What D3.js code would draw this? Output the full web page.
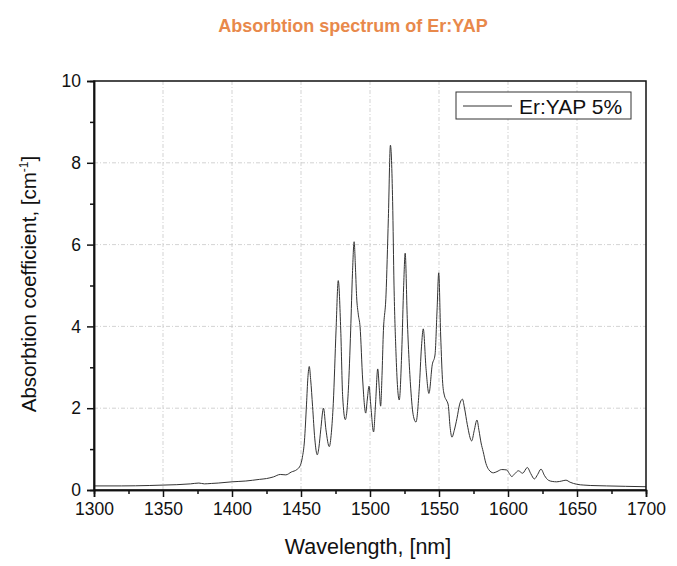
<!DOCTYPE html>
<html>
<head>
<meta charset="utf-8">
<script src="https://cdn.jsdelivr.net/npm/d3@7"></script>
<style>
  html, body { margin: 0; padding: 0; background: #fff; }
  svg { display: block; font-family: "Liberation Sans", Arial, Helvetica, sans-serif; }
</style>
</head>
<body>
<svg id="chart" width="677" height="566"></svg>
<script>
// ── Data ──────────────────────────────────────────────────────────────────────
const wavelength = [
  1300, 1320, 1340, 1350, 1360, 1370, 1376, 1380, 1385, 1390, 1400, 1410, 1420, 1425, 1430,
  1435, 1439, 1443, 1447, 1449.5, 1451, 1452.5, 1454, 1455, 1456, 1457, 1458.4, 1460, 1461.8,
  1463, 1464.3, 1466.3, 1468.1, 1470.5, 1472, 1473.4, 1475.4, 1477, 1478.8, 1480.2, 1482.1,
  1484.3, 1486, 1487.3, 1488.5, 1489.5, 1490.3, 1491.5, 1492.8, 1494.7, 1496.9, 1498, 1499.3,
  1500.5, 1502.6, 1504, 1505.6, 1506.7, 1507.7, 1508.7, 1509.6, 1511.6, 1513.3, 1514.8, 1516.4,
  1517.4, 1518.8, 1520, 1521.2, 1523, 1524.4, 1525.5, 1527, 1529.5, 1531.5, 1533.3, 1535.7,
  1537.3, 1538.6, 1540.6, 1542.7, 1545.1, 1547.1, 1548.6, 1549.8, 1551.2, 1552.7, 1554, 1555.3,
  1556.7, 1558, 1559.4, 1561, 1563, 1565, 1567, 1568.5, 1570.5, 1573.7, 1575.5, 1577.5, 1579,
  1580.5, 1582, 1584, 1586, 1589.4, 1592, 1595.4, 1599, 1601, 1602.7, 1605, 1607.5, 1610.6,
  1614, 1616.5, 1619.1, 1621.5, 1623.9, 1626.5, 1629.2, 1632, 1635.3, 1639, 1642, 1645, 1649.8,
  1655, 1660, 1671.5, 1685, 1700
];
const absorption = [
  0.10, 0.10, 0.11, 0.12, 0.13, 0.15, 0.17, 0.15, 0.16, 0.17, 0.20, 0.22, 0.26, 0.28, 0.32,
  0.38, 0.37, 0.44, 0.50, 0.60, 0.80, 1.20, 2.10, 2.75, 3.02, 2.70, 2.04, 1.25, 0.86,
  1.05, 1.47, 2.00, 1.47, 1.06, 1.40, 2.12, 3.91, 5.12, 3.91, 2.28, 1.72,
  2.44, 3.91, 5.30, 6.07, 5.40, 4.73, 4.30, 3.99, 2.69, 1.88, 2.20, 2.54,
  2.10, 1.42, 2.10, 2.96, 2.50, 2.05, 2.80, 3.79, 4.77, 6.64, 8.43, 7.05,
  5.01, 3.38, 2.50, 2.20, 3.38, 5.00, 5.79, 4.20, 2.49, 1.80, 1.66, 2.49,
  3.50, 3.94, 2.97, 2.36, 3.06, 3.30, 4.40, 5.31, 3.79, 2.60, 2.30, 2.20,
  2.08, 1.55, 1.29, 1.45, 1.75, 2.10, 2.22, 2.00, 1.60, 1.20, 1.45, 1.71, 1.45,
  1.15, 0.94, 0.65, 0.50, 0.42, 0.45, 0.50, 0.49, 0.40, 0.33, 0.40, 0.47, 0.41,
  0.55, 0.40, 0.27, 0.38, 0.51, 0.35, 0.24, 0.21, 0.20, 0.22, 0.24, 0.19, 0.14,
  0.12, 0.11, 0.10, 0.09, 0.08
];
const xMajorTicks = [1300, 1350, 1400, 1450, 1500, 1550, 1600, 1650, 1700];
const xMinorTicks = [1325, 1375, 1425, 1475, 1525, 1575, 1625, 1675];
const yMajorTicks = [0, 2, 4, 6, 8, 10];
const yMinorTicks = [1, 3, 5, 7, 9];
const seriesName = "Er:YAP 5%";

// ── Layout ────────────────────────────────────────────────────────────────────
const svg = d3.select("#chart");
const plot = { left: 94, right: 646, top: 81, bottom: 490 };

const x = d3.scaleLinear().domain([1300, 1700]).range([plot.left, plot.right]);
const y = d3.scaleLinear().domain([0, 10]).range([plot.bottom, plot.top]);

// Title
svg.append("text")
  .attr("x", 353)
  .attr("y", 32)
  .attr("text-anchor", "middle")
  .attr("font-size", "18px")
  .attr("font-weight", "bold")
  .attr("fill", "#E8894B")
  .text("Absorbtion spectrum of Er:YAP");

// ── Grid ──────────────────────────────────────────────────────────────────────
const grid = svg.append("g").attr("class", "grid")
  .attr("stroke", "#c8c8c8").attr("stroke-width", 0.8).attr("stroke-dasharray", "4,2,1,2");

grid.selectAll(".gx")
  .data(xMajorTicks.slice(1, -1))
  .join("line")
  .attr("x1", (d) => x(d)).attr("x2", (d) => x(d))
  .attr("y1", plot.top).attr("y2", plot.bottom);

grid.selectAll(".gy")
  .data(yMajorTicks.slice(1, -1))
  .join("line")
  .attr("x1", plot.left).attr("x2", plot.right)
  .attr("y1", (d) => y(d)).attr("y2", (d) => y(d));

// ── Spectrum ──────────────────────────────────────────────────────────────────
const points = wavelength.map((w, i) => [w, absorption[i]]);
const line = d3.line()
  .x((d) => x(d[0]))
  .y((d) => y(d[1]))
  .curve(d3.curveMonotoneX);

svg.append("path")
  .datum(points)
  .attr("fill", "none")
  .attr("stroke", "#333")
  .attr("stroke-width", 1)
  .attr("d", line);

// ── Frame + axes ──────────────────────────────────────────────────────────────
svg.append("rect")
  .attr("x", plot.left).attr("y", plot.top)
  .attr("width", plot.right - plot.left).attr("height", plot.bottom - plot.top)
  .attr("fill", "none").attr("stroke", "#111").attr("stroke-width", 1.5);

const xAxis = svg.append("g")
  .attr("transform", `translate(0,${plot.bottom})`)
  .call(d3.axisBottom(x).tickValues(xMajorTicks).tickSize(7).tickPadding(6).tickFormat(d3.format("d")));
xAxis.append("g")
  .call(d3.axisBottom(x).tickValues(xMinorTicks).tickSize(4).tickFormat(""));

const yAxis = svg.append("g")
  .attr("transform", `translate(${plot.left},0)`)
  .call(d3.axisLeft(y).tickValues(yMajorTicks).tickSize(7).tickPadding(6).tickFormat(d3.format("d")));
yAxis.append("g")
  .call(d3.axisLeft(y).tickValues(yMinorTicks).tickSize(4).tickFormat(""));

svg.selectAll(".domain").attr("stroke", "#111").attr("stroke-width", 1.5);
svg.selectAll(".tick line").attr("stroke", "#111").attr("stroke-width", 1.5);
svg.selectAll(".tick text")
  .attr("font-family", "'Liberation Sans', Arial, Helvetica, sans-serif")
  .attr("font-size", "17.5px")
  .attr("fill", "#111");

// Axis titles
svg.append("text")
  .attr("x", 368)
  .attr("y", 554)
  .attr("text-anchor", "middle")
  .attr("font-size", "21.5px")
  .attr("fill", "#111")
  .text("Wavelength, [nm]");

const yTitle = svg.append("text")
  .attr("transform", "translate(36,284) rotate(-90)")
  .attr("text-anchor", "middle")
  .attr("font-size", "20.5px")
  .attr("fill", "#111");
yTitle.append("tspan").text("Absorbtion coefficient, [cm");
yTitle.append("tspan").attr("dy", -8).attr("font-size", "12px").text("-1");
yTitle.append("tspan").attr("dy", 8).text("]");

// ── Legend ────────────────────────────────────────────────────────────────────
const legend = svg.append("g");
legend.append("rect")
  .attr("x", 456).attr("y", 92)
  .attr("width", 175).attr("height", 27)
  .attr("fill", "#fff").attr("stroke", "#333").attr("stroke-width", 1);
legend.append("line")
  .attr("x1", 463).attr("x2", 512)
  .attr("y1", 106).attr("y2", 106)
  .attr("stroke", "#333").attr("stroke-width", 1);
legend.append("text")
  .attr("x", 519).attr("y", 113.5)
  .attr("font-size", "21px")
  .attr("fill", "#111")
  .text(seriesName);
</script>
</body>
</html>
